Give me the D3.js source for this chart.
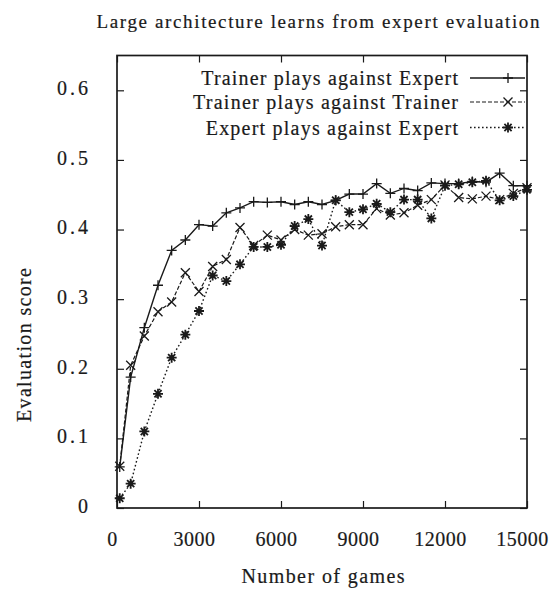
<!DOCTYPE html>
<html>
<head>
<meta charset="utf-8">
<script src="https://cdn.jsdelivr.net/npm/d3@7"></script>
<style>
  html, body { margin: 0; padding: 0; background: #fff; }
  svg { display: block; }
</style>
</head>
<body>
<svg id="chart" width="554" height="589"></svg>
<script>
// ---------------- data ----------------
const games = [100, 500, 1000, 1500, 2000, 2500, 3000, 3500, 4000, 4500, 5000, 5500, 6000, 6500, 7000, 7500,
               8000, 8500, 9000, 9500, 10000, 10500, 11000, 11500, 12000, 12500, 13000, 13500, 14000, 14500, 15000];

const trainerVsExpert = [0.059, 0.188, 0.259, 0.320, 0.370, 0.385, 0.407, 0.405, 0.424, 0.431, 0.440, 0.439, 0.440, 0.436, 0.440, 0.436,
                         0.442, 0.451, 0.451, 0.466, 0.452, 0.459, 0.456, 0.467, 0.466, 0.466, 0.469, 0.468, 0.481, 0.463, 0.463];

const trainerVsTrainer = [0.060, 0.205, 0.247, 0.282, 0.296, 0.338, 0.311, 0.347, 0.357, 0.403, 0.377, 0.392, 0.385, 0.400, 0.392, 0.394,
                          0.404, 0.407, 0.407, 0.430, 0.421, 0.424, 0.435, 0.443, 0.464, 0.446, 0.444, 0.448, 0.443, 0.452, 0.460];

const expertVsExpert = [0.014, 0.035, 0.110, 0.164, 0.216, 0.249, 0.283, 0.334, 0.326, 0.350, 0.375, 0.375, 0.378, 0.405, 0.415, 0.377,
                        0.442, 0.425, 0.429, 0.437, 0.425, 0.443, 0.443, 0.416, 0.463, 0.465, 0.468, 0.470, 0.442, 0.448, 0.457];

const seriesNames = ["Trainer plays against Expert", "Trainer plays against Trainer", "Expert plays against Expert"];
const xTickValues = [0, 3000, 6000, 9000, 12000, 15000];
const xTickLabels = ["0", "3000", "6000", "9000", "12000", "15000"];
const yTickValues = [0, 0.1, 0.2, 0.3, 0.4, 0.5, 0.6];
const yTickLabels = ["0", "0.1", "0.2", "0.3", "0.4", "0.5", "0.6"];
const chartTitle = "Large architecture learns from expert evaluation";
const xTitle = "Number of games";
const yTitle = "Evaluation score";

// ---------------- layout ----------------
const L = 117, R = 527, T = 55.5, B = 508;
const svg = d3.select("#chart");
const ink = "#1a1a1a";
const serif = '"Liberation Serif"';

const x = d3.scaleLinear().domain([0, 15000]).range([L, R]);
const y = d3.scaleLinear().domain([0, 0.65]).range([B, T]);

const series = [
  { name: seriesNames[0], values: trainerVsExpert, dash: null, marker: "plus", width: 1.4 },
  { name: seriesNames[1], values: trainerVsTrainer, dash: "4,2", marker: "cross", width: 1.2 },
  { name: seriesNames[2], values: expertVsExpert, dash: "1.6,2.4", marker: "star", width: 1.4 }
];

function markerPath(type) {
  const p = d3.path();
  if (type === "plus" || type === "star") {
    p.moveTo(-5, 0); p.lineTo(5, 0);
    p.moveTo(0, -5); p.lineTo(0, 5);
  }
  if (type === "cross" || type === "star") {
    const s = type === "star" ? 3.6 : 4.5;
    p.moveTo(-s, -s); p.lineTo(s, s);
    p.moveTo(-s, s); p.lineTo(s, -s);
  }
  return p.toString();
}

function styleText(sel, size) {
  return sel.style("font-family", serif).style("font-size", size + "px")
    .attr("fill", ink).style("stroke", ink).style("stroke-width", "0.2px");
}

// ---------------- axes ----------------
const xAxis = d3.axisBottom(x).tickValues(xTickValues).tickSize(-7).tickSizeOuter(0).tickPadding(24)
  .tickFormat((d, i) => xTickLabels[i]);
const gx = svg.append("g").attr("transform", `translate(0,${B})`).call(xAxis);
gx.select(".domain").remove();
gx.selectAll("line").attr("stroke", ink).attr("stroke-width", 1.2);
styleText(gx.selectAll("text"), 20).attr("x", -5).attr("dy", "0.71em").style("letter-spacing", "0.5px");

const xTop = d3.axisTop(x).tickValues(xTickValues).tickSize(-7).tickSizeOuter(0).tickFormat("");
const gxt = svg.append("g").attr("transform", `translate(0,${T})`).call(xTop);
gxt.select(".domain").remove();
gxt.selectAll("line").attr("stroke", ink).attr("stroke-width", 1.2);

const yAxis = d3.axisLeft(y).tickValues(yTickValues).tickSize(-7).tickSizeOuter(0).tickPadding(26)
  .tickFormat((d, i) => yTickLabels[i]);
const gy = svg.append("g").attr("transform", `translate(${L},0)`).call(yAxis);
gy.select(".domain").remove();
gy.selectAll("line").attr("stroke", ink).attr("stroke-width", 1.2);
styleText(gy.selectAll("text"), 20).attr("dy", "0.22em").style("letter-spacing", "3px");

const yRight = d3.axisRight(y).tickValues(yTickValues).tickSize(-7).tickSizeOuter(0).tickFormat("");
const gyr = svg.append("g").attr("transform", `translate(${R},0)`).call(yRight);
gyr.select(".domain").remove();
gyr.selectAll("line").attr("stroke", ink).attr("stroke-width", 1.2);

// frame
svg.append("rect").attr("x", L).attr("y", T).attr("width", R - L).attr("height", B - T)
  .attr("fill", "none").attr("stroke", ink).attr("stroke-width", 1.7);

// ---------------- series ----------------
const line = d3.line().x((d, i) => x(games[i])).y(d => y(d));
series.forEach(s => {
  svg.append("path").datum(s.values).attr("d", line)
    .attr("fill", "none").attr("stroke", ink).attr("stroke-width", s.width)
    .attr("stroke-dasharray", s.dash);
  svg.append("g").selectAll("path").data(s.values).join("path")
    .attr("transform", (d, i) => `translate(${x(games[i])},${y(d)})`)
    .attr("d", markerPath(s.marker))
    .attr("fill", "none").attr("stroke", ink).attr("stroke-width", s.marker === "star" ? 1.8 : 1.3);
});

// ---------------- legend ----------------
const legendRows = [78, 102, 127.5];
const legendWidths = [256.7, 265, 252.3];
series.forEach((s, i) => {
  const ly = legendRows[i];
  styleText(svg.append("text"), 20).attr("x", 458).attr("y", ly + 7).attr("text-anchor", "end")
    .attr("textLength", legendWidths[i]).attr("lengthAdjust", "spacing")
    .text(s.name);
  svg.append("line").attr("x1", 470).attr("x2", 525).attr("y1", ly).attr("y2", ly)
    .attr("stroke", ink).attr("stroke-width", s.width).attr("stroke-dasharray", s.dash);
  svg.append("path").attr("transform", `translate(508,${ly})`).attr("d", markerPath(s.marker))
    .attr("fill", "none").attr("stroke", ink).attr("stroke-width", s.marker === "star" ? 1.8 : 1.3);
});

// ---------------- titles ----------------
styleText(svg.append("text"), 19).attr("x", 318).attr("y", 28).attr("text-anchor", "middle")
  .attr("textLength", 443).attr("lengthAdjust", "spacing").text(chartTitle);

styleText(svg.append("text"), 20).attr("x", 323).attr("y", 583).attr("text-anchor", "middle")
  .attr("textLength", 163).attr("lengthAdjust", "spacing").text(xTitle);

styleText(svg.append("text"), 20).attr("transform", "translate(31,345) rotate(-90)").attr("text-anchor", "middle")
  .attr("textLength", 154).attr("lengthAdjust", "spacing").text(yTitle);
</script>
</body>
</html>
